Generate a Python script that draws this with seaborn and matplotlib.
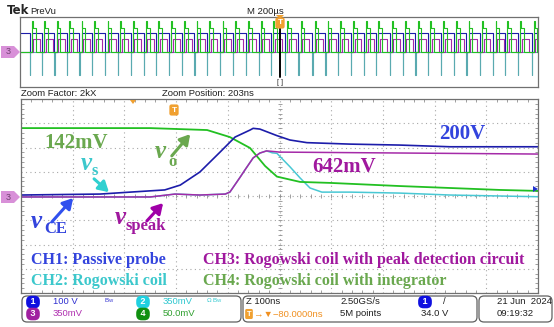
import numpy as np
import matplotlib.pyplot as plt
import seaborn as sns
from matplotlib.patches import FancyBboxPatch, Polygon

sns.set_style('white')
plt.rcParams['font.family'] = ['Liberation Sans', 'DejaVu Sans']

# zoomed window (100 ns/div), time and level in divisions
ch1_t = [0, 1.53, 2.11, 2.78, 3.08, 3.46, 3.85, 4.14, 4.43, 4.49, 4.62, 4.95, 5.20, 5.53, 6.36, 7.33, 8.30, 10]
ch1_v = [0.04, 0.08, 0.16, 0.25, 0.45, 0.99, 1.81, 2.43, 2.72, 2.79, 2.76, 2.49, 2.31, 2.20, 2.14, 2.10, 2.03, 2.03]

ch2_t = [0, 2.50, 2.98, 3.46, 3.95, 4.04, 4.24, 4.33, 4.49, 4.62, 4.75, 4.86, 4.95, 5.20, 5.40, 5.59, 5.82, 6.36, 7.33, 8.30, 10]
ch2_v = [-0.04, -0.04, 0.08, 0.04, 0.08, 0.16, 0.78, 1.07, 1.57, 1.77, 1.86, 1.78, 1.76, 1.21, 0.74, 0.33, 0.16, 0.16, 0.12, 0.04, -0.03]

ch3_t = [0, 2.50, 2.98, 3.46, 3.95, 4.04, 4.24, 4.33, 4.49, 4.62, 4.75, 5.01, 10]
ch3_v = [-0.04, -0.04, 0.08, 0.04, 0.08, 0.16, 0.78, 1.07, 1.57, 1.77, 1.86, 1.81, 1.73]

ch4_t = [0, 2.50, 3.60, 4.04, 4.43, 4.72, 4.95, 5.40, 5.98, 7.33, 8.30, 9.26, 10]
ch4_v = [2.80, 2.80, 2.72, 2.43, 1.98, 1.24, 0.80, 0.58, 0.54, 0.41, 0.33, 0.25, 0.21]

# overview record (200 us/div): switching instants in divisions
pulse_on = [0.23, 0.47, 0.71, 0.95, 1.19, 1.43, 1.69, 1.93, 2.18, 2.43,
            2.67, 2.92, 3.17, 3.41, 3.65, 3.91, 4.15, 4.40, 4.65, 4.89,
            5.16, 5.42, 5.69, 5.94, 6.18, 6.43, 6.68, 6.92, 7.18, 7.43,
            7.68, 7.92, 8.17, 8.42, 8.66, 8.92, 9.18, 9.41, 9.66, 9.92]
ov_lo = -0.05
ov_ch1_hi = 2.14
ov_ch2_spike = -2.63
ov_ch3_hi = 1.49
ov_ch4_hi = 2.70
ov_ch4_spike = 3.58

c_ch1 = '#1c1caa'
c_ch2 = '#48c8d4'
c_ch3 = '#a52aa8'
c_ch4 = '#22c022'
t_blue = '#3344dd'
t_cyan = '#3cc8cc'
t_purple = '#a0189e'
t_green = '#6aa84f'

W, H = 554, 327
fig = plt.figure(figsize=(W / 100, H / 100), dpi=100)


def box(x0, y0, x1, y1):
    return [x0 / W, 1 - y1 / H, (x1 - x0) / W, (y1 - y0) / H]


# ---- overview
ax_ov = fig.add_axes(box(20, 17, 538, 87))
ax_ov.set_xlim(0, 10)
ax_ov.set_ylim(-4, 4)
ax_ov.set_xticks([])
ax_ov.set_yticks([])
for s in ax_ov.spines.values():
    s.set_color('#707070')
    s.set_linewidth(0.9)

b_t, b_y, m_t, m_y, g_t, g_y, c_t, c_y = [], [], [], [], [], [], [], []
for t0 in pulse_on:
    b_t += [t0 - 0.045, t0 - 0.045, t0, t0]
    b_y += [ov_ch1_hi, ov_lo, ov_lo, ov_ch1_hi]
    m_t += [t0 + 0.03, t0 + 0.03, t0 + 0.16, t0 + 0.16]
    m_y += [ov_lo, ov_ch3_hi, ov_ch3_hi, ov_lo]
    g_t += [t0, t0, t0 + 0.015, t0 + 0.015, t0 + 0.07, t0 + 0.07]
    g_y += [ov_lo, ov_ch4_spike, ov_ch4_spike, ov_ch4_hi, ov_ch4_hi, ov_lo]
    c_t += [t0 - 0.045, t0 - 0.045, t0 - 0.04, t0 - 0.04]
    c_y += [ov_lo, ov_ch2_spike, ov_ch2_spike, ov_lo]
b_t = [0] + b_t + [10]
b_y = [ov_ch1_hi] + b_y + [ov_ch1_hi]
m_t = [0] + m_t + [10]
m_y = [ov_lo] + m_y + [ov_lo]
g_t = [0] + g_t + [10]
g_y = [ov_lo] + g_y + [ov_lo]
c_t = [0] + c_t + [10]
c_y = [ov_lo] + c_y + [ov_lo]

for tt, yy, col in [(c_t, c_y, '#5aaab0'), (m_t, m_y, c_ch3), (b_t, b_y, c_ch1), (g_t, g_y, c_ch4)]:
    ax_ov.plot(tt, yy, color=col, lw=0.8)

# ---- zoomed window
ax = fig.add_axes(box(21, 99, 538, 293))
ax.set_xlim(0, 10)
ax.set_ylim(-4, 4)
ax.set_xticks(range(11))
ax.set_yticks(range(-4, 5))
ax.set_xticks(np.arange(0, 10.01, 0.2), minor=True)
ax.set_yticks(np.arange(-4, 4.01, 0.2), minor=True)
ax.tick_params(which='major', length=0, labelbottom=False, labelleft=False)
ax.tick_params(which='minor', direction='in', length=2.5, width=0.6, color='#909090',
               top=True, right=True, bottom=True, left=True)
ax.grid(True, which='major', color='#a8a8a8', linestyle=(0, (1, 3)), lw=0.8)
for s in ax.spines.values():
    s.set_color('#707070')
    s.set_linewidth(0.9)
ax.plot(np.arange(0, 10.01, 0.2), np.zeros(51), ls='none', marker='|', ms=3.5, mew=0.6, color='#909090')
ax.plot(np.full(41, 5.0), np.arange(-4, 4.01, 0.2), ls='none', marker='_', ms=3.5, mew=0.6, color='#909090')

sns.lineplot(x=ch2_t, y=ch2_v, ax=ax, color=c_ch2, lw=1.1, estimator=None, sort=False)
sns.lineplot(x=ch4_t, y=ch4_v, ax=ax, color=c_ch4, lw=1.3, estimator=None, sort=False)
sns.lineplot(x=ch1_t, y=ch1_v, ax=ax, color=c_ch1, lw=1.2, estimator=None, sort=False)
sns.lineplot(x=ch3_t, y=ch3_v, ax=ax, color=c_ch3, lw=1.1, estimator=None, sort=False)

# ---- overlay in pixel coordinates
ov = fig.add_axes([0, 0, 1, 1], zorder=10)
ov.set_xlim(0, W)
ov.set_ylim(H, 0)
ov.axis('off')
ov.patch.set_alpha(0)

ui = dict(fontsize=6.8, va='center', ha='left')
ov.text(7, 11, 'Tek', fontsize=8.5, fontweight='bold', va='center', family='DejaVu Sans')
ov.text(30, 11, 'PreVu', color='#202020', **ui)
ov.text(247, 11, 'M 200\u00b5s', color='#202020', **ui)
ov.text(21, 94, 'Zoom Factor: 2kX', color='#202020', **ui)
ov.text(162, 94, 'Zoom Position: 203ns', color='#202020', **ui)

# trigger markers
ov.plot([280, 280], [28, 77], color='black', lw=1.4)
ov.text(280, 23, 'T', fontsize=6, color='white', ha='center', va='center', fontweight='bold',
        bbox=dict(boxstyle='round,pad=0.25', fc='#f0a030', ec='none'))
ov.add_patch(Polygon([[276, 15], [284, 15], [280, 19]], closed=True, fc='#f0a030', ec='none'))
ov.text(280, 82, '[ ]', fontsize=5, ha='center', va='center')
ov.add_patch(Polygon([[130, 100], [136, 100], [133, 104]], closed=True, fc='#f0a030', ec='none'))
ov.text(174, 110, 'T', fontsize=6, color='white', ha='center', va='center', fontweight='bold',
        bbox=dict(boxstyle='round,pad=0.25', fc='#f0a030', ec='none'))

# channel 3 ground markers
for yc in (52, 197):
    ov.add_patch(Polygon([[1, yc - 6], [14, yc - 6], [20, yc], [14, yc + 6], [1, yc + 6]],
                         closed=True, fc='#d890d8', ec='none'))
    ov.text(8, yc, '3', fontsize=6.5, color='#704070', ha='center', va='center')
ov.add_patch(Polygon([[538, 189], [533, 186], [533, 192]], closed=True, fc='#2030d0', ec='none'))

# annotations
ser = dict(family='Liberation Serif', fontweight='bold', va='center')
ov.text(44, 143, '142mV', fontsize=15, color=t_green, **ser)
ov.text(439, 134, '200V', fontsize=15, color=t_blue, **ser)
ov.text(312, 167, '642mV', fontsize=15, color=t_purple, **ser)

vit = dict(family='Liberation Serif', fontweight='bold', style='italic', va='center', fontsize=18)
sub = dict(family='Liberation Serif', fontweight='bold', va='center', fontsize=12)
ov.text(155, 151, 'v', color=t_green, **vit)
ov.text(168, 162, 'o', color=t_green, **sub)
ov.text(81, 163, 'v', color=t_cyan, **vit)
ov.text(91, 171, 's', color=t_cyan, **sub)
ov.text(31, 222, 'v', color=t_blue, **vit)
ov.text(44, 229, 'CE', color=t_blue, **sub)
ov.text(115, 218, 'v', color=t_purple, **vit)
ov.text(125, 226, 'speak', color=t_purple, **sub)

def arrow(x0, y0, x1, y1, col):
    ov.annotate('', xy=(x1, y1), xytext=(x0, y0),
                arrowprops=dict(arrowstyle='-|>,head_length=0.6,head_width=0.35', color=col, lw=2.2))

arrow(170, 158, 192, 132, t_green)
arrow(92, 177, 111, 194, '#30d0d0')
arrow(50, 224, 75, 196, '#3050ee')
arrow(145, 223, 165, 201, '#a000a8')

leg = dict(family='Liberation Serif', fontweight='bold', va='center', fontsize=11.5)
ov.text(31, 260, 'CH1: Passive probe', color=t_blue, **leg)
ov.text(31, 281, 'CH2: Rogowski coil', color=t_cyan, **leg)
ov.text(203, 260, 'CH3: Rogowski coil with peak detection circuit', color=t_purple, **leg)
ov.text(203, 281, 'CH4: Rogowski coil with integrator', color=t_green, **leg)

# ---- status bar
for x0, x1 in [(22, 241), (243, 477), (479, 552)]:
    ov.add_patch(FancyBboxPatch((x0, 296), x1 - x0, 26, boxstyle='round,pad=0,rounding_size=5',
                                fc='white', ec='#606060', lw=0.9))

def badge(x, y, n, col):
    ov.text(x, y, n, fontsize=6.5, color='white', ha='center', va='center', fontweight='bold',
            bbox=dict(boxstyle='round,pad=0.2,rounding_size=0.6', fc=col, ec='none'))

badge(33, 302, ' 1 ', '#1010e0')
badge(33, 314, ' 3 ', '#a020a0')
badge(143, 302, ' 2 ', '#20d0e0')
badge(143, 314, ' 4 ', '#109010')
ov.text(53, 302, '100 V', color='#3030d0', **ui)
ov.text(53, 314, '350mV', color='#b030b0', **ui)
ov.text(163, 302, '350mV', color='#30c8d0', **ui)
ov.text(163, 314, '50.0mV', color='#30a030', **ui)
ov.text(104, 301, 'B$_{\\rm W}$', fontsize=4.5, color='#3030d0', va='center', ha='left')
ov.text(206, 301, '\u03a9 B$_{\\rm W}$', fontsize=4.5, color='#30c8d0', va='center', ha='left')

ov.text(246, 302, 'Z 100ns', color='#202020', **ui)
ov.text(249, 314, 'T', fontsize=5.5, color='white', ha='center', va='center', fontweight='bold',
        bbox=dict(boxstyle='round,pad=0.2', fc='#f0a030', ec='none'))
ov.text(254, 314, '\u2192\u25bc\u221280.0000ns', color='#f09020', **ui)
ov.text(340, 302, '2.50GS/s', color='#202020', **ui)
ov.text(340, 314, '5M points', color='#202020', **ui)
badge(425, 302, ' 1 ', '#1010e0')
ov.text(443, 302, '/', color='#202020', **ui)
ov.text(421, 314, '34.0 V', color='#202020', **ui)
ov.text(497, 302, '21 Jun  2024', color='#202020', **ui)
ov.text(497, 314, '09:19:32', color='#202020', **ui)

fig.savefig('out.png', dpi=100)
